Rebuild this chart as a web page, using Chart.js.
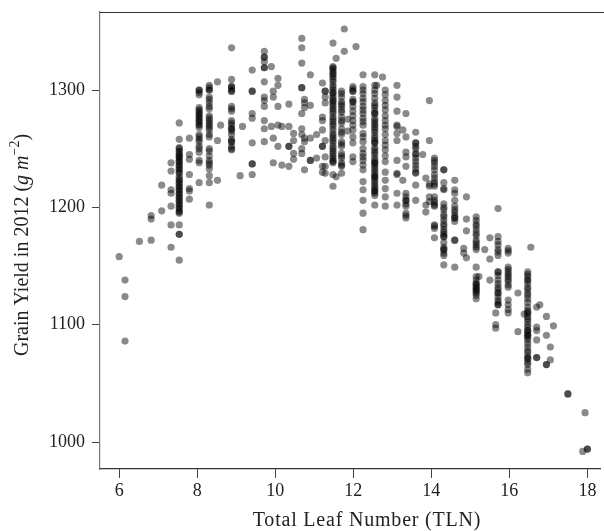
<!DOCTYPE html>
<html>
<head>
<meta charset="utf-8">
<title>Grain yield vs TLN</title>
<script src="https://cdn.jsdelivr.net/npm/chart.js@4.4.1/dist/chart.umd.min.js"></script>
<style>
  html, body { margin: 0; padding: 0; background: #fff; }
  #wrap { width: 604px; height: 531px; }
</style>
</head>
<body>
<div id="wrap"><canvas id="scatterChart" width="604" height="531"></canvas></div>
<script>
// Tick labels
const tickX = [6, 8, 10, 12, 14, 16, 18];
const tickY = [1000, 1100, 1200, 1300];

// Total leaf number of each column of points
const columnTLN = [
  6.0, 6.15, 6.52, 6.82, 7.09, 7.33, 7.54, 7.8, 8.05, 8.31,
  8.52, 8.6, 8.88, 9.1, 9.16, 9.41, 9.72, 9.9, 9.95, 10.07,
  10.17, 10.35, 10.47, 10.68, 10.75, 10.9, 11.06, 11.21, 11.28, 11.48,
  11.56, 11.7, 11.77, 11.86, 11.99, 12.07, 12.25, 12.55, 12.6, 12.75,
  12.82, 13.12, 13.27, 13.35, 13.6, 13.78, 13.86, 13.95, 14.08, 14.32,
  14.6, 14.83, 14.9, 15.15, 15.22, 15.37, 15.5, 15.65, 15.71, 15.97,
  16.22, 16.38, 16.47, 16.55, 16.7, 16.78, 16.95, 17.05, 17.13, 17.5,
  17.88, 17.94, 18.0
];

// Grain yield 2012 (g m^-2) for each column above
const columnYield = [
  [1158],
  [1138, 1124, 1086],
  [1171],
  [1193, 1190, 1172],
  [1219, 1197],
  [1238, 1231, 1215, 1212, 1201, 1185, 1166],
  [1272, 1258, 1251, 1250, 1248, 1247, 1245, 1244, 1243, 1242, 1240, 1239, 1238, 1236, 1235, 1233, 1232, 1230, 1229, 1226, 1224, 1223, 1221, 1220, 1218, 1217, 1215, 1214, 1212, 1211, 1209, 1208, 1206, 1205, 1203, 1202, 1200, 1199, 1197, 1196, 1195, 1185, 1177, 1177, 1155],
  [1259, 1245, 1241, 1228, 1216, 1214, 1207],
  [1300, 1300, 1298, 1296, 1285, 1283, 1282, 1280, 1279, 1277, 1276, 1274, 1273, 1271, 1270, 1268, 1262, 1260, 1258, 1256, 1252, 1250, 1247, 1240, 1238, 1221],
  [1304, 1302, 1300, 1300, 1294, 1292, 1289, 1286, 1284, 1278, 1276, 1274, 1272, 1270, 1268, 1266, 1262, 1260, 1250, 1248, 1244, 1240, 1238, 1236, 1233, 1227, 1221, 1202],
  [1307, 1257, 1223],
  [1270],
  [1336, 1309, 1303, 1303, 1301, 1299, 1299, 1286, 1284, 1282, 1274, 1272, 1270, 1267, 1267, 1265, 1262, 1258, 1256, 1256, 1252, 1250, 1249],
  [1227],
  [1269],
  [1317, 1299, 1299, 1280, 1276, 1255, 1237, 1237, 1228],
  [1333, 1328, 1328, 1324, 1319, 1319, 1307, 1294, 1291, 1286, 1274, 1267, 1256],
  [1320, 1269],
  [1299, 1294, 1259, 1238],
  [1310, 1304, 1286, 1270, 1252],
  [1269, 1236],
  [1288, 1269, 1252, 1252, 1235],
  [1263, 1257, 1246, 1241],
  [1344, 1336, 1323, 1302, 1302, 1280, 1267, 1262, 1250, 1246],
  [1292, 1289, 1285, 1259, 1256, 1232],
  [1313, 1287, 1259, 1240, 1240],
  [1262, 1242],
  [1306, 1277, 1274, 1266, 1252, 1252, 1235, 1230],
  [1299, 1299, 1294, 1289, 1257, 1243, 1235, 1229],
  [1340, 1320, 1319, 1318, 1316, 1314, 1313, 1311, 1309, 1307, 1304, 1302, 1300, 1298, 1297, 1295, 1293, 1291, 1290, 1288, 1286, 1284, 1282, 1280, 1277, 1275, 1273, 1271, 1269, 1266, 1263, 1261, 1259, 1257, 1255, 1252, 1250, 1248, 1246, 1244, 1242, 1240, 1239, 1238, 1228, 1218],
  [1327, 1226],
  [1299, 1297, 1294, 1290, 1288, 1286, 1283, 1281, 1277, 1274, 1272, 1267, 1264, 1262, 1256, 1254, 1252, 1246, 1244, 1242, 1238, 1236, 1235, 1229],
  [1352, 1333],
  [1275, 1265],
  [1303, 1301, 1299, 1299, 1292, 1290, 1290, 1286, 1282, 1278, 1274, 1270, 1266, 1260, 1255, 1243, 1239],
  [1337],
  [1313, 1303, 1300, 1297, 1293, 1290, 1286, 1283, 1280, 1276, 1273, 1270, 1263, 1260, 1256, 1250, 1246, 1243, 1240, 1236, 1232, 1222, 1215, 1206, 1195, 1181],
  [1313, 1304, 1300, 1297, 1293, 1289, 1287, 1285, 1282, 1280, 1280, 1276, 1274, 1272, 1270, 1268, 1266, 1264, 1261, 1259, 1257, 1255, 1255, 1251, 1249, 1247, 1245, 1242, 1240, 1238, 1238, 1236, 1234, 1232, 1230, 1228, 1226, 1226, 1224, 1222, 1220, 1218, 1216, 1214, 1214, 1212, 1210, 1202],
  [1304],
  [1311],
  [1300, 1296, 1291, 1287, 1283, 1278, 1274, 1270, 1267, 1262, 1257, 1253, 1249, 1244, 1239, 1230, 1223, 1216, 1209, 1201],
  [1304, 1294, 1282, 1270, 1269, 1263, 1257, 1240, 1229, 1228, 1212, 1202],
  [1266, 1223],
  [1280, 1260, 1247, 1243, 1235, 1212, 1209, 1206, 1206, 1203, 1201, 1195, 1193, 1191],
  [1264, 1255, 1255, 1252, 1250, 1246, 1245, 1242, 1239, 1236, 1233, 1230, 1229, 1219, 1206],
  [1245],
  [1225, 1202, 1196],
  [1291, 1257, 1220, 1218, 1209, 1205],
  [1242, 1240, 1238, 1235, 1232, 1228, 1225, 1222, 1220, 1218, 1209, 1206, 1204, 1202, 1201, 1185, 1184, 1182, 1174],
  [1232, 1232, 1221, 1216, 1215, 1203, 1200, 1198, 1194, 1192, 1189, 1186, 1184, 1181, 1179, 1177, 1175, 1175, 1170, 1166, 1164, 1164, 1161, 1159, 1151],
  [1223, 1215, 1212, 1206, 1201, 1198, 1196, 1193, 1191, 1191, 1188, 1172, 1172, 1149],
  [1165, 1161],
  [1209, 1190, 1180, 1157],
  [1192, 1189, 1186, 1184, 1181, 1178, 1176, 1172, 1170, 1168, 1166, 1164, 1149, 1141, 1138, 1135, 1135, 1133, 1132, 1130, 1130, 1128, 1127, 1125, 1122],
  [1141],
  [1164],
  [1174, 1156, 1138],
  [1110, 1100, 1097],
  [1199, 1175, 1171, 1168, 1164, 1162, 1159, 1145, 1145, 1142, 1138, 1135, 1132, 1130, 1127, 1127, 1124, 1121, 1119, 1117, 1117],
  [1165, 1163, 1161, 1149, 1147, 1145, 1143, 1141, 1139, 1137, 1134, 1132, 1121, 1117, 1113, 1110],
  [1127, 1094],
  [1109],
  [1145, 1143, 1141, 1138, 1138, 1135, 1132, 1130, 1127, 1125, 1122, 1119, 1115, 1112, 1110, 1110, 1107, 1105, 1103, 1100, 1098, 1095, 1095, 1093, 1091, 1091, 1089, 1087, 1084, 1081, 1078, 1076, 1073, 1071, 1071, 1068, 1066, 1062, 1059],
  [1166],
  [1115, 1098, 1095, 1087, 1072, 1072],
  [1117],
  [1107, 1091, 1066, 1066],
  [1081, 1070],
  [1099],
  [1041, 1041],
  [992],
  [1025],
  [994, 994]
];

const points = [];
columnTLN.forEach((tln, i) => {
  columnYield[i].forEach(v => points.push({ x: tln, y: v }));
});

const serif = '"Liberation Serif", "DejaVu Serif", serif';

// frame line on top + axis titles (y title has italic units and a superscript)
const framePlugin = {
  id: 'frame',
  afterDraw(chart) {
    const ctx = chart.ctx;
    const a = chart.chartArea;
    ctx.save();
    ctx.strokeStyle = '#333';
    ctx.lineWidth = 1.2;
    ctx.beginPath();
    ctx.moveTo(a.left, a.top + 0.5);
    ctx.lineTo(chart.width, a.top + 0.5);
    ctx.stroke();

    ctx.fillStyle = '#222';
    ctx.font = '20px ' + serif;
    ctx.letterSpacing = '0.8px';
    ctx.textAlign = 'center';
    ctx.textBaseline = 'alphabetic';
    ctx.fillText('Total Leaf Number (TLN)', 367, 526);
    ctx.letterSpacing = '0px';

    // rotated y title
    const parts = [
      { t: 'Grain Yield in 2012 (', f: '20px ' + serif, dy: 0 },
      { t: 'g', f: 'italic 20px ' + serif, dy: 0 },
      { t: ' ', f: '20px ' + serif, dy: 0 },
      { t: 'm', f: 'italic 20px ' + serif, dy: 0 },
      { t: '\u22122', f: '14px ' + serif, dy: -9 },
      { t: ')', f: '20px ' + serif, dy: 0 }
    ];
    let total = 0;
    parts.forEach(p => { ctx.font = p.f; p.w = ctx.measureText(p.t).width; total += p.w; });
    ctx.translate(28, 245);
    ctx.rotate(-Math.PI / 2);
    ctx.textAlign = 'left';
    let x = -total / 2;
    parts.forEach(p => {
      ctx.font = p.f;
      ctx.fillText(p.t, x, p.dy);
      x += p.w;
    });
    ctx.restore();
  }
};

const ctx = document.getElementById('scatterChart');
new Chart(ctx, {
  type: 'scatter',
  data: {
    datasets: [{
      label: 'Grain Yield',
      data: points,
      backgroundColor: 'rgba(0, 0, 0, 0.46)',
      borderWidth: 0,
      pointRadius: 3.6,
      pointHoverRadius: 3.6
    }]
  },
  options: {
    responsive: false,
    animation: false,
    devicePixelRatio: 1,
    layout: { padding: { top: 12, right: 0, left: 0, bottom: 0 } },
    plugins: {
      legend: { display: false },
      tooltip: { enabled: false }
    },
    scales: {
      x: {
        type: 'linear',
        min: 5.509,
        max: 18.333,
        afterBuildTicks: scale => { scale.ticks = tickX.map(v => ({ value: v })); },
        afterFit: scale => {
          scale.height = 62;
          scale.paddingLeft = 0;
          scale.paddingRight = 0;
        },
        border: { display: true, color: '#333', width: 1.2 },
        grid: { drawOnChartArea: false, drawTicks: true, tickLength: 9, tickColor: '#444' },
        ticks: {
          color: '#222',
          padding: 2,
          maxRotation: 0,
          autoSkip: false,
          callback: v => String(v),
          font: { family: serif, size: 18 }
        }
      },
      y: {
        type: 'linear',
        min: 977,
        max: 1366.5,
        afterBuildTicks: scale => { scale.ticks = tickY.map(v => ({ value: v })); },
        afterFit: scale => {
          scale.width = 100;
          scale.paddingTop = 0;
          scale.paddingBottom = 0;
        },
        border: { display: true, color: '#777', width: 1.2 },
        grid: { drawOnChartArea: false, drawTicks: true, tickLength: 8, tickColor: '#444' },
        ticks: {
          color: '#222',
          padding: 7,
          autoSkip: false,
          callback: v => String(v),
          font: { family: serif, size: 18 }
        }
      }
    }
  },
  plugins: [framePlugin]
});
</script>
</body>
</html>
